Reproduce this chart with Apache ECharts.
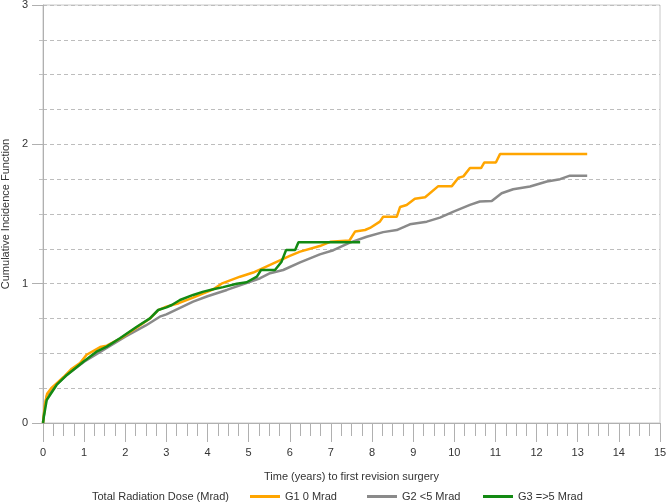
<!DOCTYPE html>
<html><head><meta charset="utf-8">
<script src="https://cdn.jsdelivr.net/npm/echarts@6/dist/echarts.min.js"></script>
<style>html,body{margin:0;padding:0;background:#fff}#c{width:667px;height:503px}</style>
</head><body><div id="c"></div>
<script>
var seriesNames = ['G1 0 Mrad', 'G2 <5 Mrad', 'G3 =>5 Mrad'];
var legendTitle = 'Total Radiation Dose (Mrad)';
var xTitle = 'Time (years) to first revision surgery';
var yTitle = 'Cumulative Incidence Function';

var g1T = [0, 0.05, 0.1, 0.2, 0.35, 0.5, 0.7, 0.9, 1.06, 1.39, 1.55, 1.9, 2.3, 2.6, 2.8, 3.0, 3.3, 3.65, 3.9, 4.14, 4.34, 4.79, 5.11, 5.6, 6.0, 6.25, 6.73, 6.98, 7.45, 7.59, 7.83, 7.95, 8.19, 8.27, 8.6, 8.68, 8.84, 9.04, 9.29, 9.61, 9.94, 10.1, 10.22, 10.38, 10.65, 10.73, 11.01, 11.11, 13.23];
var g1V = [0, 0.14, 0.21, 0.25, 0.29, 0.33, 0.39, 0.43, 0.49, 0.545, 0.555, 0.61, 0.69, 0.75, 0.81, 0.835, 0.86, 0.9, 0.93, 0.96, 1.0, 1.05, 1.08, 1.146, 1.2, 1.23, 1.27, 1.3, 1.31, 1.375, 1.385, 1.40, 1.445, 1.48, 1.48, 1.55, 1.565, 1.61, 1.62, 1.70, 1.70, 1.76, 1.77, 1.83, 1.83, 1.87, 1.87, 1.93, 1.93];

var g2T = [0, 0.05, 0.1, 0.3, 0.6, 1.0, 1.5, 2.0, 2.5, 2.84, 3.0, 3.65, 4.0, 4.47, 5.0, 5.28, 5.52, 5.84, 6.25, 6.73, 7.06, 7.46, 7.87, 8.27, 8.6, 8.92, 9.33, 9.65, 9.98, 10.38, 10.62, 10.91, 11.15, 11.43, 11.84, 12.25, 12.57, 12.81, 13.23];
var g2V = [0, 0.13, 0.2, 0.27, 0.35, 0.44, 0.53, 0.62, 0.70, 0.763, 0.78, 0.871, 0.91, 0.955, 1.01, 1.039, 1.075, 1.098, 1.153, 1.21, 1.24, 1.295, 1.337, 1.37, 1.385, 1.426, 1.445, 1.474, 1.517, 1.565, 1.59, 1.594, 1.649, 1.678, 1.697, 1.733, 1.75, 1.775, 1.775];

var g3T = [0, 0.02, 0.09, 0.33, 0.58, 0.98, 1.3, 1.55, 1.87, 2.28, 2.6, 2.8, 3.0, 3.13, 3.33, 3.65, 3.9, 4.14, 4.38, 4.71, 4.95, 5.2, 5.3, 5.64, 5.8, 5.91, 6.13, 6.21, 7.71];
var g3V = [0, 0.045, 0.165, 0.273, 0.345, 0.44, 0.512, 0.548, 0.608, 0.691, 0.751, 0.811, 0.83, 0.847, 0.883, 0.919, 0.943, 0.96, 0.975, 1.0, 1.01, 1.05, 1.098, 1.098, 1.158, 1.242, 1.242, 1.297, 1.297];

function pairs(t, v) { return t.map(function (x, i) { return [x, v[i]]; }); }

var colors = ['#FFA500', '#8A8A8A', '#138A13'];
var font = 'Liberation Sans, Arial, sans-serif';
var legendLefts = [250, 367, 483];

function legendFor(i) {
  return {
    data: [seriesNames[i]], left: legendLefts[i], bottom: 1, padding: 0,
    itemWidth: 30, itemHeight: 3, icon: 'rect',
    textStyle: {fontSize: 11, color: '#333', fontFamily: font}
  };
}

var chart = echarts.init(document.getElementById('c'), null, {renderer: 'canvas'});
chart.setOption({
  animation: false,
  textStyle: {fontFamily: font},
  grid: {left: 43, right: 7, top: 5, bottom: 80, containLabel: false, outerBoundsMode: 'none',
         show: true, borderColor: '#c8c8c8', borderWidth: 1},
  title: {text: legendTitle, left: 92, bottom: 1, padding: 0,
          textStyle: {fontSize: 11, fontWeight: 'normal', color: '#333', fontFamily: font}},
  legend: [legendFor(0), legendFor(1), legendFor(2)],
  xAxis: {
    type: 'value', min: 0, max: 15, interval: 1,
    name: xTitle, nameLocation: 'middle', nameGap: 48,
    nameTextStyle: {fontSize: 11, color: '#333'},
    axisLine: {show: true, lineStyle: {color: '#b0b0b0'}},
    axisTick: {show: true, length: 19, lineStyle: {color: '#b0b0b0'}},
    minorTick: {show: true, splitNumber: 4, length: 13, lineStyle: {color: '#b0b0b0'}},
    axisLabel: {fontSize: 11, color: '#333', margin: 24},
    splitLine: {show: false}
  },
  yAxis: {
    type: 'value', min: 0, max: 3, interval: 1,
    name: yTitle, nameLocation: 'middle', nameGap: 31,
    nameTextStyle: {fontSize: 11, color: '#333'},
    axisLine: {show: true, lineStyle: {color: '#b0b0b0'}},
    axisTick: {show: true, inside: false, length: 11, lineStyle: {color: '#b0b0b0'}},
    minorTick: {show: true, splitNumber: 4, length: 6, lineStyle: {color: '#c0c0c0', type: 'dashed'}},
    axisLabel: {fontSize: 11, color: '#333', margin: 15},
    splitLine: {show: true, lineStyle: {color: '#bdbdbd', type: [4, 3]}},
    minorSplitLine: {show: true, lineStyle: {color: '#bdbdbd', type: [4, 3]}}
  },
  series: [
    {name: seriesNames[0], type: 'line', data: pairs(g1T, g1V), symbol: 'none', z: 3,
     lineStyle: {color: colors[0], width: 2.5}, itemStyle: {color: colors[0]}},
    {name: seriesNames[1], type: 'line', data: pairs(g2T, g2V), symbol: 'none', z: 2,
     lineStyle: {color: colors[1], width: 2.5}, itemStyle: {color: colors[1]}},
    {name: seriesNames[2], type: 'line', data: pairs(g3T, g3V), symbol: 'none', z: 4,
     lineStyle: {color: colors[2], width: 2.5}, itemStyle: {color: colors[2]}}
  ]
});
</script></body></html>
